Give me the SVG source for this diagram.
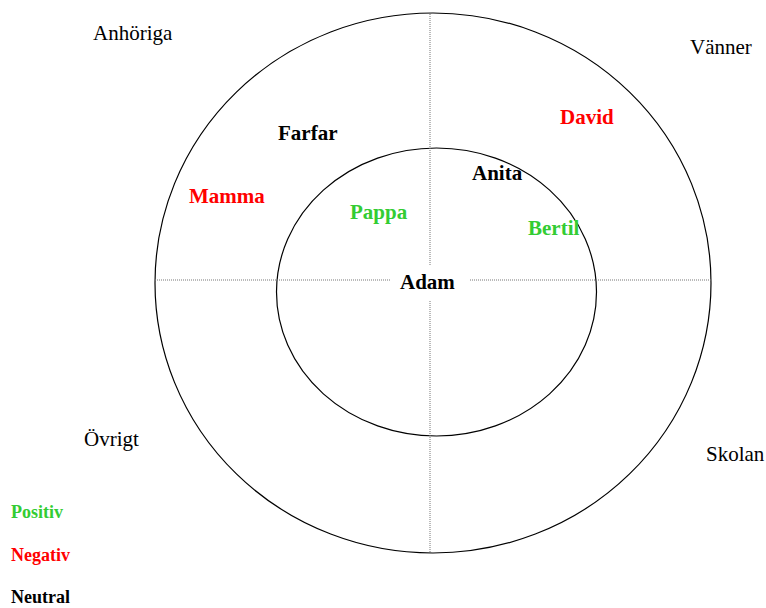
<svg xmlns="http://www.w3.org/2000/svg" width="766" height="608" viewBox="0 0 766 608">
<style>
text{font-family:"Liberation Serif","Times New Roman",serif;}
.ring{fill:none;stroke:#000;stroke-width:1.2;}
.axis{stroke:#777;stroke-width:1;stroke-dasharray:1 1;fill:none;}
.region{font-size:21px;fill:#000;}
.person{font-size:21px;font-weight:bold;}
.legend{font-size:18px;font-weight:bold;}
.pos{fill:#33cc33;}
.neg{fill:#ff0000;}
.neu{fill:#000;}
</style>
<rect width="766" height="608" fill="#fff"/>
<g id="rings">
<ellipse class="ring" cx="433" cy="283" rx="278" ry="270"/>
<ellipse class="ring" cx="436.5" cy="292" rx="160" ry="144"/>
</g>
<g id="connectors">
<line class="axis" x1="430" y1="14" x2="430" y2="265"/>
<line class="axis" x1="430" y1="301" x2="430" y2="553"/>
<line class="axis" x1="155" y1="280" x2="390" y2="280"/>
<line class="axis" x1="470" y1="280" x2="711" y2="280"/>
</g>
<g id="regions">
<text class="region" x="93" y="40">Anhöriga</text>
<text class="region" x="690" y="54">Vänner</text>
<text class="region" x="84" y="446">Övrigt</text>
<text class="region" x="706" y="461">Skolan</text>
</g>
<g id="adam"><text class="person neu" x="400" y="289">Adam</text></g>
<g id="farfar"><text class="person neu" x="278" y="140">Farfar</text></g>
<g id="david"><text class="person neg" x="560" y="124">David</text></g>
<g id="mamma"><text class="person neg" x="189" y="203">Mamma</text></g>
<g id="anita"><text class="person neu" x="472" y="180">Anita</text></g>
<g id="pappa"><text class="person pos" x="350" y="219">Pappa</text></g>
<g id="bertil"><text class="person pos" x="528" y="235">Bertil</text></g>
<g id="legend">
<text class="legend pos" x="11" y="518">Positiv</text>
<text class="legend neg" x="11" y="561">Negativ</text>
<text class="legend neu" x="11" y="603">Neutral</text>
</g>
</svg>
